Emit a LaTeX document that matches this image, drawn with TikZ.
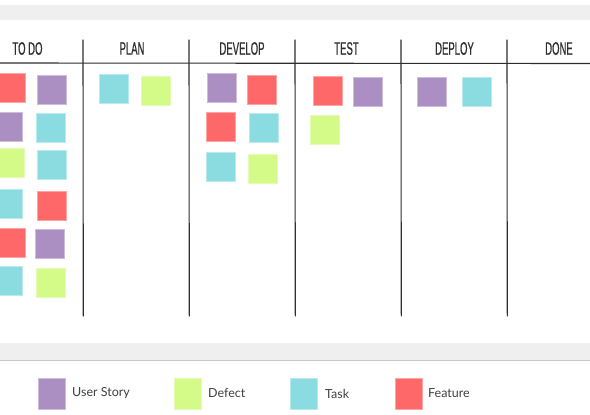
\documentclass[tikz,border=0pt]{standalone}
\usepackage{fontspec}
\newfontfamily\handfont[FakeStretch=0.53,FakeBold=0.6]{Liberation Sans}
\newfontfamily\legfont{Lato}
\definecolor{cpurple}{HTML}{AC8FC2}
\definecolor{cgreen}{HTML}{D4FA88}
\definecolor{ccyan}{HTML}{8ADCE1}
\definecolor{cred}{HTML}{FF6868}
\definecolor{bandgray}{HTML}{EFEFEF}
\definecolor{inkgray}{HTML}{2E2E2E}
\begin{document}
\begin{tikzpicture}[x=1pt,y=-1pt,
  note/.style={minimum width=29pt,minimum height=29pt,inner sep=0pt,line width=0.7pt},
  us/.style={note,fill=cpurple,draw=cpurple!60!white},
  df/.style={note,fill=cgreen,draw=cgreen!60!white},
  tk/.style={note,fill=ccyan,draw=ccyan!60!white},
  ft/.style={note,fill=cred,draw=cred!60!white},
  legbox/.style={minimum width=27pt,minimum height=31pt,inner sep=0pt,line width=0.7pt},
  head/.style={font=\handfont\fontsize{18}{18}\selectfont,text=inkgray,inner sep=0pt},
  legtext/.style={font=\legfont\fontsize{12.5}{13}\selectfont,text=black!75,anchor=west,inner sep=0pt},
  rule/.style={draw=inkgray,line width=1.1pt,line cap=round}]
\useasboundingbox (0,0) rectangle (590,415);
\fill[white] (0,0) rectangle (590,415);
% top and bottom bands
\fill[bandgray] (0,5) rectangle (590,20);
\fill[bandgray] (0,343) rectangle (590,359.5);
\draw[black!22,line width=1pt] (0,360) -- (590,360);
% board lines
\draw[rule] (0,63) -- (590,63.5);
\foreach \x in {83,189,295,401,507} \draw[rule] (\x,40) -- (\x+0.3,316);
% headers
\node[head] (hTodo) at (27.5,48.5) {TO DO};
\node[head] (hPlan) at (132,48.5) {PLAN};
\node[head] (hDev) at (242,48.5) {DEVELOP};
\node[head] (hTest) at (346.5,48.5) {TEST};
\node[head] (hDep) at (454.5,48.5) {DEPLOY};
\node[head] (hDone) at (559,48.5) {DONE};
% TO DO
\node[ft] (t1a) at (10.5,88) {};
\node[us] (t1b) at (51.5,89.5) {};
\node[us] (t2a) at (7.5,126.5) {};
\node[tk] (t2b) at (50.5,127.5) {};
\node[df] (t3a) at (9.5,163) {};
\node[tk] (t3b) at (51.5,165) {};
\node[tk] (t4a) at (7.5,203.5) {};
\node[ft] (t4b) at (51.5,205.5) {};
\node[ft] (t5a) at (10.5,242.5) {};
\node[us] (t5b) at (49.5,243.5) {};
\node[tk] (t6a) at (7.5,280.5) {};
\node[df] (t6b) at (50.5,282.5) {};
% PLAN
\node[tk] (p1a) at (113.5,88.5) {};
\node[df] (p1b) at (155.5,90.5) {};
% DEVELOP
\node[us] (d1a) at (222,88) {};
\node[ft] (d1b) at (261.5,89.5) {};
\node[ft] (d2a) at (221,126.5) {};
\node[tk] (d2b) at (263.5,128) {};
\node[tk] (d3a) at (220.5,166.5) {};
\node[df] (d3b) at (262.5,168.5) {};
% TEST
\node[ft] (e1a) at (327.5,90.5) {};
\node[us] (e1b) at (368,92) {};
\node[df] (e2a) at (325,129.5) {};
% DEPLOY
\node[us] (y1a) at (431.5,91.5) {};
\node[tk] (y1b) at (476.5,91.5) {};
% legend
\node[legbox,fill=cpurple,draw=cpurple!60!white] (lUS) at (51.5,393.5) {};
\node[legbox,fill=cgreen,draw=cgreen!60!white] (lDF) at (188,393.5) {};
\node[legbox,fill=ccyan,draw=ccyan!60!white] (lTK) at (304,393.5) {};
\node[legbox,fill=cred,draw=cred!60!white] (lFT) at (408.5,393.5) {};
\node[legtext] (tUS) at (72,393.5) {User Story};
\node[legtext] (tDF) at (208,393.5) {Defect};
\node[legtext] (tTK) at (325,393.5) {Task};
\node[legtext] (tFT) at (428,393.5) {Feature};
\end{tikzpicture}
\end{document}
